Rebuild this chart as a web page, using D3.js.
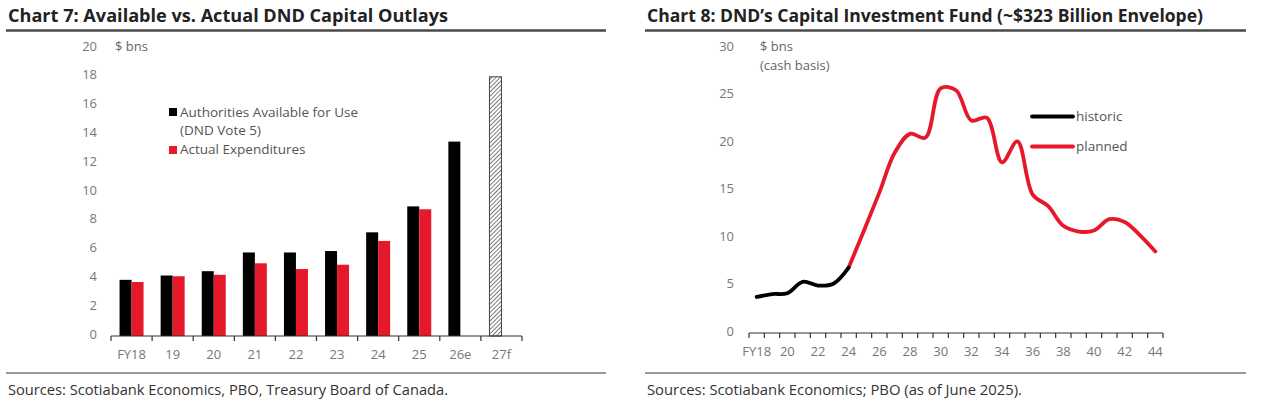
<!DOCTYPE html>
<html>
<head>
<meta charset="utf-8">
<script src="https://cdn.jsdelivr.net/npm/d3@7"></script>
<style>
  body { margin: 0; background: #fff; }
  svg text { font-family: "Open Sans", sans-serif; }
</style>
</head>
<body>
<svg id="chart" width="1280" height="416"></svg>
<script>
// chart 7 data
var fiscalYears = ["FY18", "19", "20", "21", "22", "23", "24", "25", "26e", "27f"];
var authorities = [3.9, 4.2, 4.5, 5.8, 5.8, 5.9, 7.2, 9.0, 13.5, 18.0];
var actualSpend = [3.75, 4.15, 4.25, 5.05, 4.65, 4.95, 6.6, 8.8, null, null];
var yTicks7 = [0, 2, 4, 6, 8, 10, 12, 14, 16, 18, 20];

// chart 8 data
var years = d3.range(18, 45);
var historic = [3.8, 4.1, 4.2, 5.4, 5.0, 5.2, 6.9];
var planned = [6.9, 10.8, 14.8, 19.0, 21.0, 20.6, 25.8, 25.6, 22.4, 22.7, 18.0, 20.2,
               14.6, 13.4, 11.3, 10.7, 10.8, 12.0, 11.7, 10.3, 8.6];
var yTicks8 = [0, 5, 10, 15, 20, 25, 30];

var red = "#e6192b";
var svg = d3.select("#chart");

// shared header / footer
function frame(x0, x1, title, titleLen, source, sourceLen) {
  svg.append("text")
    .attr("x", x0 + 2).attr("y", 22)
    .attr("font-size", 17).attr("font-weight", "bold").attr("fill", "#222")
    .attr("textLength", titleLen).attr("lengthAdjust", "spacingAndGlyphs")
    .text(title);
  svg.append("line")
    .attr("x1", x0).attr("x2", x1).attr("y1", 30.5).attr("y2", 30.5)
    .attr("stroke", "#4a4a4a").attr("stroke-width", 2.5);
  svg.append("line")
    .attr("x1", x0).attr("x2", x1).attr("y1", 373).attr("y2", 373)
    .attr("stroke", "#777").attr("stroke-width", 1.5);
  svg.append("text")
    .attr("x", x0 + 2).attr("y", 395)
    .attr("font-size", 14).attr("fill", "#333")
    .attr("textLength", sourceLen).attr("lengthAdjust", "spacingAndGlyphs")
    .text(source);
}

frame(6, 606, "Chart 7: Available vs. Actual DND Capital Outlays", 440,
  "Sources: Scotiabank Economics, PBO, Treasury Board of Canada.", 440);
frame(645, 1246, "Chart 8: DND\u2019s Capital Investment Fund (~$323 Billion Envelope)", 556,
  "Sources: Scotiabank Economics; PBO (as of June 2025).", 375);

// ---------- chart 7 ----------
var x7 = d3.scaleBand().domain(fiscalYears).range([111, 522]);
var y7 = d3.scaleLinear().domain([0, 20]).range([336, 48]);
var bw = 12;

var defs = svg.append("defs");
var pat = defs.append("pattern")
  .attr("id", "hatch").attr("patternUnits", "userSpaceOnUse")
  .attr("width", 3).attr("height", 3)
  .attr("patternTransform", "rotate(45)");
pat.append("rect").attr("width", 3).attr("height", 3).attr("fill", "#fff");
pat.append("line").attr("x1", 0).attr("y1", 0).attr("x2", 0).attr("y2", 3)
  .attr("stroke", "#444").attr("stroke-width", 1.4);

var g7 = svg.append("g");

g7.selectAll(".y7").data(yTicks7).enter().append("text")
  .attr("x", 97).attr("y", d => y7(d) - 2)
  .attr("dy", "0.35em").attr("text-anchor", "end")
  .attr("font-size", 13).attr("fill", "#777")
  .text(d => d);

g7.append("text").attr("x", 115).attr("y", 46).attr("dy", "0.35em")
  .attr("font-size", 13).attr("fill", "#666").text("$ bns");

g7.selectAll(".auth").data(fiscalYears).enter().append("rect")
  .attr("x", d => x7(d) + x7.bandwidth() / 2 - bw)
  .attr("y", (d, i) => y7(authorities[i]))
  .attr("width", bw)
  .attr("height", (d, i) => y7(0) - y7(authorities[i]))
  .attr("fill", d => d === "27f" ? "url(#hatch)" : "#000")
  .attr("stroke", d => d === "27f" ? "#444" : "none")
  .attr("stroke-width", 1);

g7.selectAll(".act").data(fiscalYears.filter((d, i) => actualSpend[i] != null)).enter().append("rect")
  .attr("x", d => x7(d) + x7.bandwidth() / 2)
  .attr("y", (d, i) => y7(actualSpend[i]))
  .attr("width", bw)
  .attr("height", (d, i) => y7(0) - y7(actualSpend[i]))
  .attr("fill", red);

var xAxis7 = g7.append("g").attr("transform", "translate(0,336)");
xAxis7.append("line").attr("x1", 111).attr("x2", 522)
  .attr("stroke", "#333").attr("stroke-width", 1.2);
xAxis7.selectAll(".tk").data(fiscalYears.concat(["end"])).enter().append("line")
  .attr("x1", (d, i) => 111 + i * x7.bandwidth())
  .attr("x2", (d, i) => 111 + i * x7.bandwidth())
  .attr("y1", 0).attr("y2", 5)
  .attr("stroke", "#333").attr("stroke-width", 1.2);
xAxis7.selectAll(".lb").data(fiscalYears).enter().append("text")
  .attr("x", d => x7(d) + x7.bandwidth() / 2).attr("y", 18)
  .attr("dy", "0.35em").attr("text-anchor", "middle")
  .attr("font-size", 13).attr("fill", "#777")
  .text(d => d);

// legend 7
var leg7 = g7.append("g").attr("font-size", 13.5).attr("fill", "#555");
leg7.append("rect").attr("x", 169).attr("y", 108).attr("width", 8).attr("height", 8).attr("fill", "#000");
leg7.append("text").attr("x", 180).attr("y", 112).attr("dy", "0.35em").text("Authorities Available for Use");
leg7.append("text").attr("x", 180).attr("y", 130).attr("dy", "0.35em").text("(DND Vote 5)");
leg7.append("rect").attr("x", 169).attr("y", 146).attr("width", 8).attr("height", 8).attr("fill", red);
leg7.append("text").attr("x", 180).attr("y", 149.5).attr("dy", "0.35em").text("Actual Expenditures");

// ---------- chart 8 ----------
var x8 = d3.scaleBand().domain(years).range([749, 1163]);
var y8 = d3.scaleLinear().domain([0, 30]).range([333, 48.5]);
var g8 = svg.append("g");

g8.selectAll(".y8").data(yTicks8).enter().append("text")
  .attr("x", 734).attr("y", d => y8(d) - 2)
  .attr("dy", "0.35em").attr("text-anchor", "end")
  .attr("font-size", 13).attr("fill", "#777")
  .text(d => d);

g8.append("text").attr("x", 760).attr("y", 46).attr("dy", "0.35em")
  .attr("font-size", 13).attr("fill", "#666").text("$ bns");
g8.append("text").attr("x", 760).attr("y", 65).attr("dy", "0.35em")
  .attr("font-size", 13).attr("fill", "#666").text("(cash basis)");

var cx = d => x8(d) + x8.bandwidth() / 2;
var line8 = d3.line()
  .x(d => cx(d[0]))
  .y(d => y8(d[1]))
  .curve(d3.curveCatmullRom.alpha(0.5));

var histPts = historic.map((v, i) => [18 + i, v]);
var planPts = planned.map((v, i) => [24 + i, v]);

g8.append("path").datum(planPts)
  .attr("fill", "none").attr("stroke", red).attr("stroke-width", 3.8)
  .attr("stroke-linecap", "round").attr("d", line8);
g8.append("path").datum(histPts)
  .attr("fill", "none").attr("stroke", "#000").attr("stroke-width", 3.8)
  .attr("stroke-linecap", "round").attr("d", line8);

var xAxis8 = g8.append("g").attr("transform", "translate(0,333)");
xAxis8.append("line").attr("x1", 749).attr("x2", 1163)
  .attr("stroke", "#333").attr("stroke-width", 1.2);
xAxis8.selectAll(".tk").data(years.concat([45])).enter().append("line")
  .attr("x1", (d, i) => 749 + i * x8.bandwidth())
  .attr("x2", (d, i) => 749 + i * x8.bandwidth())
  .attr("y1", 0).attr("y2", 5)
  .attr("stroke", "#333").attr("stroke-width", 1.2);
xAxis8.selectAll(".lb").data(years.filter(d => d % 2 === 0)).enter().append("text")
  .attr("x", d => cx(d)).attr("y", 18)
  .attr("dy", "0.35em").attr("text-anchor", "middle")
  .attr("font-size", 13).attr("fill", "#777")
  .text(d => d === 18 ? "FY18" : d);

// legend 8
var leg8 = g8.append("g").attr("font-size", 13.5).attr("fill", "#555");
leg8.append("line").attr("x1", 1032).attr("x2", 1073).attr("y1", 116.5).attr("y2", 116.5)
  .attr("stroke", "#000").attr("stroke-width", 3.8).attr("stroke-linecap", "round");
leg8.append("text").attr("x", 1076).attr("y", 116).attr("dy", "0.35em").text("historic");
leg8.append("line").attr("x1", 1032).attr("x2", 1073).attr("y1", 146.5).attr("y2", 146.5)
  .attr("stroke", red).attr("stroke-width", 3.8).attr("stroke-linecap", "round");
leg8.append("text").attr("x", 1076).attr("y", 146).attr("dy", "0.35em").text("planned");
</script>
</body>
</html>
